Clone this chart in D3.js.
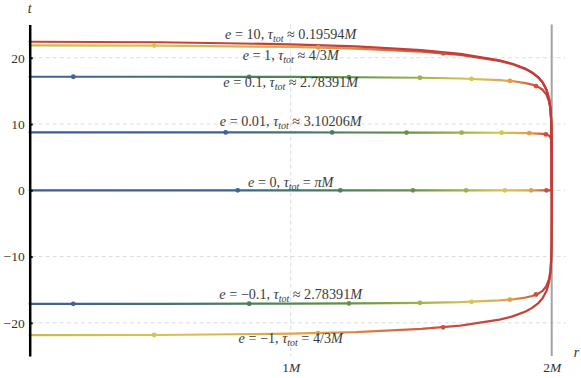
<!DOCTYPE html>
<html><head><meta charset="utf-8">
<script src="https://cdn.jsdelivr.net/npm/d3@7"></script>
<style>body{margin:0;background:#fff} svg{display:block} text{white-space:pre}</style>
</head><body><svg id="c" width="581" height="378"></svg>
<script>
// ---------- data ----------
const rGrid = [0, 0.5, 1, 1.25, 1.5, 1.65, 1.8, 1.85, 1.9, 1.925, 1.95, 1.965, 1.98, 1.99, 1.995, 1.998, 1.999, 1.9995, 1.9998, 1.9999, 1.99995, 1.99998, 1.99999];
const tE10  = [22.41, 22.34, 22.03, 21.70, 21.14, 20.58, 19.61, 19.09, 18.33, 17.78, 16.99, 16.29, 15.19, 13.81, 12.43, 10.60, 9.22, 7.83, 5.99, 4.60, 3.22, 1.38, 0];
const tE1   = [21.86, 21.83, 21.63, 21.39, 20.92, 20.42, 19.52, 19.02, 18.28, 17.74, 16.97, 16.28, 15.18, 13.81, 12.43, 10.61, 9.22, 7.83, 6.00, 4.61, 3.22, 1.39, 0];
const tE01  = [17.13, 17.13, 17.10, 17.06, 16.98, 16.87, 16.62, 16.46, 16.18, 15.95, 15.56, 15.17, 14.44, 13.38, 12.20, 10.50, 9.16, 7.79, 5.98, 4.60, 3.21, 1.38, 0];
const tE001 = [8.73, 8.73, 8.73, 8.72, 8.71, 8.70, 8.68, 8.66, 8.63, 8.60, 8.56, 8.51, 8.41, 8.24, 8.01, 7.56, 7.07, 6.42, 5.28, 4.22, 3.03, 1.33, 0];
const tE0   = [0, 0, 0, 0, 0, 0, 0, 0, 0, 0, 0, 0, 0, 0, 0, 0, 0, 0, 0, 0, 0, 0, 0];
const tEm01 = [-17.13, -17.13, -17.10, -17.06, -16.98, -16.87, -16.62, -16.46, -16.18, -15.95, -15.56, -15.17, -14.44, -13.38, -12.20, -10.50, -9.16, -7.79, -5.98, -4.60, -3.21, -1.38, 0];
const tEm1  = [-21.86, -21.83, -21.63, -21.39, -20.92, -20.42, -19.52, -19.02, -18.28, -17.74, -16.97, -16.28, -15.18, -13.81, -12.43, -10.61, -9.22, -7.83, -6.00, -4.61, -3.22, -1.39, 0];

const curveE  = [10, 1, 0.1, 0.01, 0, -0.1, -1];
const tauTot  = [0.19594, 1.33333, 2.78391, 3.10206, 3.14159, 2.78391, 1.33333];

// proper-time markers (every pi/8 from the horizon), left to right
const dotR_E10 = [],   dotT_E10 = [];
const dotR_E1  = [0.477, 1.105, 1.584], dotT_E1 = [21.83, 21.55, 20.67];
const dotR_E01 = [0.167, 0.841, 1.223, 1.495, 1.693, 1.840, 1.940], dotT_E01 = [17.13, 17.12, 17.07, 16.98, 16.82, 16.50, 15.72];
const dotR_E001 = [0.751, 1.159, 1.444, 1.655, 1.808, 1.914, 1.978], dotT_E001 = [8.73, 8.73, 8.71, 8.70, 8.68, 8.63, 8.43];
const dotR_E0 = [0.797, 1.19, 1.468, 1.672, 1.82, 1.921, 1.98], dotT_E0 = [0, 0, 0, 0, 0, 0, 0];
const dotR_Em01 = [0.167, 0.841, 1.223, 1.495, 1.693, 1.840, 1.940], dotT_Em01 = [-17.13, -17.12, -17.07, -16.98, -16.82, -16.50, -15.72];
const dotR_Em1 = [0.477, 1.105, 1.584], dotT_Em1 = [-21.83, -21.55, -20.67];

const yTicks = [-20, -10, 0, 10, 20];
const xTicks = [1, 2];

const labelE   = ["10", "1", "0.1", "0.01", "0", "\u22120.1", "\u22121"];
const labelRel = ["\u2248", "\u2248", "\u2248", "\u2248", "=", "\u2248", "="];
const labelTau = ["0.19594", "4/3", "2.78391", "3.10206", "\u03c0", "2.78391", "4/3"];

// ---------- layout / style ----------
const labelY = [39, 59.5, 86.5, 126, 187, 299, 343];
const colorDomain = [0, 0.125, 0.25, 0.375, 0.5, 0.625, 0.75, 0.875, 1];
const colorRange  = ["#c33b37", "#cf4e3c", "#e09f4c", "#d8c353", "#a0b446", "#63924a", "#4b7e5b", "#3f6392", "#3b5a9c"];
const serif = "Liberation Serif, DejaVu Serif, serif";

const svg = d3.select("#c");
const x = d3.scaleLinear().domain([0, 2]).range([29.7, 551.7]);
const y = d3.scaleLinear().domain([-25, 25]).range([356, 24.6]);
const color = d3.scaleLinear().domain(colorDomain).range(colorRange);

const tSeries = [tE10, tE1, tE01, tE001, tE0, tEm01, tEm1];
const dotRs = [dotR_E10, dotR_E1, dotR_E01, dotR_E001, dotR_E0, dotR_Em01, dotR_Em1];
const dotTs = [dotT_E10, dotT_E1, dotT_E01, dotT_E001, dotT_E0, dotT_Em01, dotT_Em1];

// gridlines
const grid = svg.append("g");
grid.selectAll("line.h").data(yTicks).join("line")
  .attr("x1", x(0) + 2).attr("x2", x(2.053)).attr("y1", d => y(d)).attr("y2", d => y(d))
  .attr("stroke", "#dcdcdc").attr("stroke-width", 1).attr("stroke-dasharray", "4,3");
grid.append("line").attr("x1", x(1)).attr("x2", x(1)).attr("y1", y(25)).attr("y2", y(-25))
  .attr("stroke", "#dcdcdc").attr("stroke-width", 1).attr("stroke-dasharray", "4,3");
// horizon line
svg.append("line").attr("x1", x(2)).attr("x2", x(2)).attr("y1", y(25)).attr("y2", y(-25))
  .attr("stroke", "#a3a3a3").attr("stroke-width", 2);

// gradients
const defs = svg.append("defs");
curveE.forEach((e, i) => {
  const stops = [{r: 0, f: tauTot[i] / Math.PI}];
  const n = dotRs[i].length;
  dotRs[i].forEach((r, j) => stops.push({r: r, f: (n - j) / 8}));
  stops.push({r: 2, f: 0});
  const g = defs.append("linearGradient").attr("id", "g" + i)
    .attr("gradientUnits", "userSpaceOnUse")
    .attr("x1", x(0)).attr("x2", x(2)).attr("y1", 0).attr("y2", 0);
  stops.forEach(s => g.append("stop").attr("offset", s.r / 2).attr("stop-color", color(s.f)));
});

// curves
const line = d3.line().x(d => x(d[0])).y(d => y(d[1]));
const order = [4, 3, 2, 5, 1, 6, 0];
order.forEach(i => {
  const pts = rGrid.map((r, j) => [r, tSeries[i][j]]);
  svg.append("path").datum(pts).attr("d", line)
    .attr("fill", "none").attr("stroke", "url(#g" + i + ")")
    .attr("stroke-width", 2.2).attr("stroke-linejoin", "round").attr("stroke-linecap", "round");
});
// dots
order.forEach(i => {
  const n = dotRs[i].length;
  svg.append("g").selectAll("circle").data(dotRs[i]).join("circle")
    .attr("cx", d => x(d)).attr("cy", (d, j) => y(dotTs[i][j])).attr("r", 2.4)
    .attr("fill", (d, j) => color((n - j) / 8));
});

// y axis
const yAxis = svg.append("g").attr("transform", `translate(${x(0)},0)`)
  .call(d3.axisLeft(y).tickValues(yTicks).tickSizeInner(-3).tickSizeOuter(0).tickPadding(5));
yAxis.select(".domain").attr("stroke", "#000").attr("stroke-width", 2.5);
yAxis.selectAll(".tick line").attr("stroke", "#000").attr("stroke-width", 2);
yAxis.selectAll(".tick text").attr("font-family", serif).attr("font-size", 13.5).attr("fill", "#333");

// x axis labels
const xAxis = svg.append("g").attr("transform", `translate(0,${y(-25)})`)
  .call(d3.axisBottom(x).tickValues(xTicks).tickSize(0).tickPadding(6).tickFormat(""));
xAxis.select(".domain").remove();
xAxis.selectAll(".tick text").each(function(d) {
  const t = d3.select(this).attr("font-family", serif).attr("font-size", 13.5).attr("fill", "#333");
  t.append("tspan").text(d);
  t.append("tspan").attr("font-style", "italic").text("M");
});

// axis titles
svg.append("text").attr("x", x(0)).attr("y", 12.5).attr("text-anchor", "middle")
  .attr("font-family", serif).attr("font-style", "italic").attr("font-size", 14).attr("fill", "#333").text("t");
svg.append("text").attr("x", 576.5).attr("y", 357).attr("text-anchor", "middle")
  .attr("font-family", serif).attr("font-style", "italic").attr("font-size", 14).attr("fill", "#333").text("r");

// curve labels
curveE.forEach((e, i) => {
  const t = svg.append("text").attr("x", x(1)).attr("y", labelY[i]).attr("text-anchor", "middle")
    .attr("font-family", serif).attr("font-size", 14.2).attr("fill", "#3a3a3a");
  t.append("tspan").attr("font-style", "italic").text("e");
  t.append("tspan").text(" = " + labelE[i] + ", ");
  t.append("tspan").attr("font-style", "italic").text("\u03c4");
  t.append("tspan").attr("font-style", "italic").attr("font-size", 10).attr("dy", 3).text("tot");
  t.append("tspan").attr("dy", -3).text(" " + labelRel[i] + " ");
  if (labelTau[i] === "\u03c0") t.append("tspan").attr("font-style", "italic").text(labelTau[i]);
  else t.append("tspan").text(labelTau[i]);
  t.append("tspan").attr("font-style", "italic").text("M");
});
</script>
</body></html>
